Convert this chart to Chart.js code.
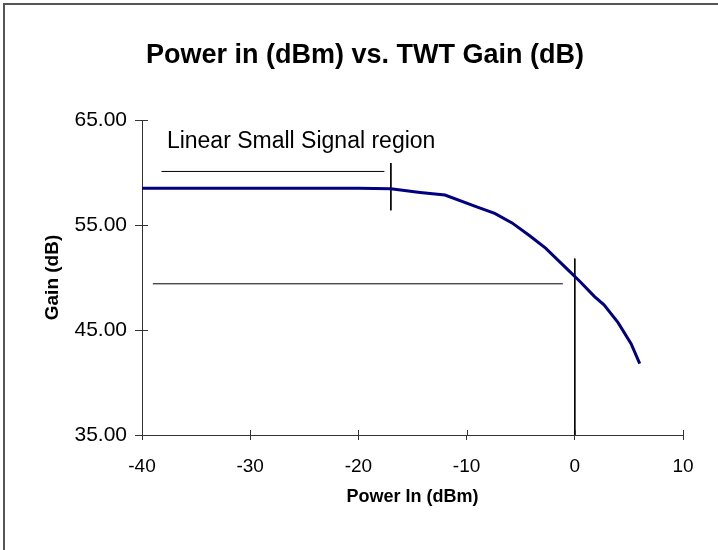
<!DOCTYPE html>
<html>
<head>
<meta charset="utf-8">
<script src="https://cdn.jsdelivr.net/npm/chart.js@4/dist/chart.umd.min.js"></script>
<style>
  body { margin: 0; background: #fff; }
  canvas { display: block; }
</style>
</head>
<body>
<canvas id="gainChart" width="718" height="550"></canvas>
<script>
// measured curve: input power (dBm) vs gain (dB)
const powerIn = [-40, -30, -20, -17, -14.3, -12, -9, -7.4, -5.8, -4.2, -2.7, -0.7, 0.5, 1.8, 2.7, 4, 5.2, 6];
const gain = [58.5, 58.5, 58.5, 58.45, 58.1, 57.85, 56.7, 56.1, 55.2, 54.0, 52.8, 50.8, 49.6, 48.2, 47.4, 45.7, 43.7, 41.8];

// marker lines drawn on the plot
const regionLineX = [-38.2, -17.6];
const regionLineY = [60.1, 60.1];
const regionTickX = [-17.0, -17.0];
const regionTickY = [60.9, 56.4];
const compLineX = [-39.0, -1.1];
const compLineY = [49.4, 49.4];
const compDropX = [0, 0];
const compDropY = [51.8, 35];

const xTicks = [-40, -30, -20, -10, 0, 10];
const yTicks = [35, 45, 55, 65];

const noteText = "Linear Small Signal region";
const notePos = { x: -37.7, y: 62.3 };

const FONT = "'Liberation Sans', Arial, sans-serif";

function pts(xs, ys) {
    return xs.map((x, i) => ({ x: x, y: ys[i] }));
}

function markerLine(xs, ys) {
    return {
        data: pts(xs, ys),
        borderColor: "#000",
        borderWidth: 1,
        pointRadius: 0,
        tension: 0
    };
}

const framePlugin = {
    id: "frame",
    beforeDraw(chart) {
        const ctx = chart.ctx;
        ctx.save();
        ctx.fillStyle = "#fff";
        ctx.fillRect(0, 0, chart.width, chart.height);
        ctx.strokeStyle = "#555";
        ctx.lineWidth = 2;
        ctx.beginPath();
        ctx.moveTo(4, chart.height);
        ctx.lineTo(4, 4);
        ctx.lineTo(chart.width, 4);
        ctx.stroke();
        ctx.restore();
    },
    afterDraw(chart) {
        const ctx = chart.ctx;
        const xs = chart.scales.x, ys = chart.scales.y;
        ctx.save();
        // inner half of the tick marks (crossing the axes)
        ctx.strokeStyle = "#333";
        ctx.lineWidth = 1;
        ctx.beginPath();
        xs.ticks.forEach(t => {
            const px = Math.round(xs.getPixelForValue(t.value)) + 0.5;
            ctx.moveTo(px, ys.bottom);
            ctx.lineTo(px, ys.bottom - 5);
        });
        ys.ticks.forEach(t => {
            const py = Math.round(ys.getPixelForValue(t.value)) + 0.5;
            ctx.moveTo(xs.left, py);
            ctx.lineTo(xs.left + 6, py);
        });
        ctx.stroke();
        // annotation text
        ctx.fillStyle = "#000";
        ctx.font = "23px " + FONT;
        ctx.textAlign = "left";
        ctx.textBaseline = "alphabetic";
        ctx.fillText(noteText, xs.getPixelForValue(notePos.x), ys.getPixelForValue(notePos.y));
        ctx.restore();
    }
};

new Chart(document.getElementById("gainChart"), {
    type: "line",
    data: {
        datasets: [
            {
                data: pts(powerIn, gain),
                borderColor: "#000080",
                borderWidth: 3,
                pointRadius: 0,
                tension: 0
            },
            markerLine(regionLineX, regionLineY),
            markerLine(regionTickX, regionTickY),
            markerLine(compLineX, compLineY),
            markerLine(compDropX, compDropY)
        ]
    },
    options: {
        responsive: false,
        devicePixelRatio: 1,
        animation: false,
        layout: { padding: { left: 12, right: 0, top: 0, bottom: 0 } },
        plugins: {
            legend: { display: false },
            tooltip: { enabled: false },
            title: {
                display: true,
                text: "Power in (dBm) vs. TWT Gain (dB)",
                color: "#000",
                font: { family: FONT, size: 27, weight: "bold" },
                padding: { top: 39, bottom: 48.6 }
            }
        },
        scales: {
            x: {
                type: "linear",
                min: -40,
                max: 10,
                afterBuildTicks: s => { s.ticks = xTicks.map(v => ({ value: v })); },
                afterFit: s => { s.height = 115; },
                border: { display: true, color: "#333", width: 1 },
                grid: { drawOnChartArea: false, drawTicks: true, tickLength: 5, color: "#333" },
                ticks: { color: "#000", font: { family: FONT, size: 19 }, padding: 15, maxRotation: 0 },
                title: {
                    display: true,
                    text: "Power In (dBm)",
                    color: "#000",
                    font: { family: FONT, size: 18, weight: "bold" },
                    padding: { top: 0, bottom: 42 }
                }
            },
            y: {
                min: 35,
                max: 65,
                afterBuildTicks: s => { s.ticks = yTicks.map(v => ({ value: v })); },
                afterFit: s => { s.width = 130; },
                border: { display: true, color: "#333", width: 1 },
                grid: { drawOnChartArea: false, drawTicks: true, tickLength: 7, color: "#333" },
                ticks: {
                    color: "#000",
                    font: { family: FONT, size: 21 },
                    padding: 8,
                    callback: v => Number(v).toFixed(2)
                },
                title: {
                    display: true,
                    text: "Gain (dB)",
                    color: "#000",
                    font: { family: FONT, size: 19, weight: "bold" },
                    padding: { top: 29, bottom: 0 }
                }
            },
            // empty right-hand spacer so the plot ends at the reference's right edge
            spacer: {
                type: "linear",
                position: "right",
                display: true,
                min: 0,
                max: 1,
                afterFit: s => { s.width = 35; },
                border: { display: false },
                grid: { display: false },
                ticks: { display: false }
            }
        }
    },
    plugins: [framePlugin]
});
</script>
</body>
</html>
